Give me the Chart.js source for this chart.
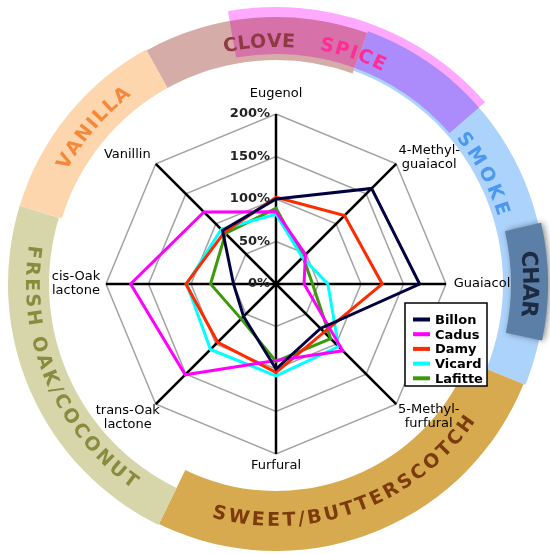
<!DOCTYPE html>
<html lang="en">
<head>
  <meta charset="UTF-8" />
  <title>Oak aroma compounds</title>
  <script src="https://cdn.jsdelivr.net/npm/chart.js"></script>
  <style>
    html, body { margin: 0; padding: 0; background: #fff; }
    #wrap { position: relative; width: 550px; height: 554px; }
  </style>
</head>
<body>
  <div id="wrap"><canvas id="radar"></canvas></div>

  <script>
    // compounds round the wheel, clockwise from the top
    const compounds = ['Eugenol', ['4-Methyl-', 'guaiacol'], 'Guaiacol', ['5-Methyl-', 'furfural'],
                       'Furfural', ['trans-Oak', 'lactone'], ['cis-Oak', 'lactone'], 'Vanillin'];

    // values in %
    const billon  = [100, 159, 169, 74, 100, 54, 50, 89];
    const cadus   = [85, 49, 33, 111, 90, 151, 171, 120];
    const damy    = [102, 114, 125, 80, 104, 97, 106, 86];
    const vicard  = [82, 44, 61, 104, 108, 109, 105, 91];
    const lafitte = [89, 45, 43, 91, 91, 58, 77, 84];

    const coopers = ['Billon', 'Cadus', 'Damy', 'Vicard', 'Lafitte'];
    const tickValues = [0, 50, 100, 150, 200];

    // aroma families on the outer ring
    const families = ['CLOVE', 'SPICE', 'SMOKE', 'CHAR', 'SWEET/BUTTERSCOTCH', 'FRESH OAK/COCONUT', 'VANILLA'];

    const colors = ['#000040', '#ff00ff', '#ff2a00', '#00ffff', '#3a9a0a'];
    const series = [billon, cadus, damy, vicard, lafitte];

    // ---- ring drawing helpers (angles in degrees, clockwise from top)
    const rad = d => (d - 90) * Math.PI / 180;

    function band(ctx, cx, cy, r0, r1, a0, a1, color) {
      ctx.beginPath();
      ctx.arc(cx, cy, r1, rad(a0), rad(a1));
      ctx.arc(cx, cy, r0, rad(a1), rad(a0), true);
      ctx.closePath();
      ctx.fillStyle = color;
      ctx.fill();
    }

    function arcText(ctx, cx, cy, text, mid, r, span, inward, font, color) {
      ctx.save();
      ctx.font = font;
      ctx.fillStyle = color;
      ctx.textAlign = 'center';
      ctx.textBaseline = 'middle';
      const chars = text.split('');
      const w = chars.map(c => ctx.measureText(c).width);
      const total = w.reduce((a, b) => a + b, 0);
      const len = span * Math.PI / 180 * r;
      const gap = (len - total) / (chars.length - 1);
      let s = 0;
      chars.forEach((c, i) => {
        const pos = s + w[i] / 2;
        s += w[i] + gap;
        const deg = inward ? mid + span / 2 - pos / r * 180 / Math.PI
                           : mid - span / 2 + pos / r * 180 / Math.PI;
        const t = deg * Math.PI / 180;
        ctx.save();
        ctx.translate(cx + r * Math.sin(t), cy - r * Math.cos(t));
        ctx.rotate(inward ? t + Math.PI : t);
        ctx.fillText(c, 0, 1);
        ctx.restore();
      });
      ctx.restore();
    }

    const ringPlugin = {
      id: 'ring',
      beforeDraw(chart) {
        const ctx = chart.ctx;
        const sc = chart.scales.r;
        const cx = sc.xCenter, cy = sc.yCenter;
        ctx.save();
        ctx.fillStyle = '#fff';
        ctx.fillRect(0, 0, chart.width, chart.height);

        band(ctx, cx, cy, 224, 267, -29, 20, '#d6aca9');   // clove
        band(ctx, cx, cy, 227, 269, 20, 112, '#acd3fb');   // smoke
        band(ctx, cx, cy, 207, 267, 112, 206, '#d7aa4f');  // sweet
        band(ctx, cx, cy, 227, 268, 206, 287, '#d6d6aa');  // fresh oak
        band(ctx, cx, cy, 224, 268, 287, 331, '#fdd6ae');  // vanilla

        ctx.globalCompositeOperation = 'multiply';
        band(ctx, cx, cy, 230, 277, -10, 49, '#ffa8ff');   // spice overlay
        ctx.globalCompositeOperation = 'source-over';

        ctx.save();
        ctx.shadowColor = 'rgba(0,0,0,0.45)';
        ctx.shadowBlur = 6;
        ctx.shadowOffsetX = 2;
        band(ctx, cx, cy, 235, 272, 77, 102, '#5b7fa7');   // char
        ctx.restore();

        const f = 'bold 19px "DejaVu Sans"';
        arcText(ctx, cx, cy, families[0], -4, 243, 17, false, f, '#8e3a42');
        arcText(ctx, cx, cy, families[1], 18.5, 244, 16, false, f, '#ff2d96');
        arcText(ctx, cx, cy, families[2], 62, 238, 22, false, f, '#4b98f0');
        arcText(ctx, cx, cy, families[3], 90, 254, 15, false, 'bold 22px "DejaVu Sans"', '#1c2a42');
        arcText(ctx, cx, cy, families[4], 160, 236, 71, true, f, '#7b3b0c');
        arcText(ctx, cx, cy, families[5], 247, 244, 64, true, f, '#8b8b40');
        arcText(ctx, cx, cy, families[6], 310.5, 244, 24, false, f, '#f5883a');
        ctx.restore();
      },
      afterDraw(chart) {
        const ctx = chart.ctx;
        const sc = chart.scales.r;
        ctx.save();

        // tick labels, left of the Eugenol axis
        ctx.font = 'bold 13px "DejaVu Sans"';
        ctx.fillStyle = '#222';
        ctx.textAlign = 'right';
        ctx.textBaseline = 'middle';
        tickValues.forEach(v => {
          const d = sc.getDistanceFromCenterForValue(v);
          ctx.fillText(v + '%', sc.xCenter - 6, sc.yCenter - d);
        });

        // compound names
        const offs = [[0, -20], [33, -6.5], [36, 0], [32.5, 12], [0, 12], [-28, 13], [-30, 0], [-28.5, -9]];
        ctx.font = '13px "DejaVu Sans"';
        ctx.fillStyle = '#000';
        ctx.textAlign = 'center';
        compounds.forEach((lab, i) => {
          const p = sc.getPointPositionForValue(i, 200);
          const lines = Array.isArray(lab) ? lab : [lab];
          const y0 = p.y + offs[i][1] - (lines.length - 1) * 7;
          lines.forEach((t, k) => ctx.fillText(t, p.x + offs[i][0], y0 + k * 14));
        });

        // legend box
        ctx.fillStyle = '#fff';
        ctx.fillRect(405, 303, 82, 83);
        ctx.strokeStyle = '#000';
        ctx.lineWidth = 1.5;
        ctx.strokeRect(405, 303, 82, 83);
        ctx.font = 'bold 13px "DejaVu Sans"';
        ctx.textAlign = 'left';
        chart.data.datasets.forEach((ds, i) => {
          const y = 319.5 + i * 14.7;
          ctx.fillStyle = ds.borderColor;
          ctx.fillRect(413, y - 2, 17, 4);
          ctx.fillStyle = '#000';
          ctx.fillText(ds.label, 435, y + 1);
        });
        ctx.restore();
      }
    };

    new Chart(document.getElementById('radar'), {
      type: 'radar',
      data: {
        labels: compounds,
        datasets: coopers.map((name, i) => ({
          label: name,
          data: series[i],
          borderColor: colors[i],
          backgroundColor: colors[i],
          borderWidth: 3,
          pointRadius: 0,
          fill: false,
          tension: 0
        }))
      },
      options: {
        responsive: true,
        maintainAspectRatio: false,
        animation: false,
        layout: { padding: { left: 106, right: 104, top: 114, bottom: 100 } },
        plugins: { legend: { display: false }, tooltip: { enabled: false } },
        scales: {
          r: {
            min: 0,
            max: 200,
            ticks: { display: false, stepSize: 50 },
            grid: { color: '#a3a3a3', lineWidth: 1.5 },
            angleLines: { color: '#000', lineWidth: 2.5 },
            pointLabels: { display: false }
          }
        }
      },
      plugins: [ringPlugin]
    });
  </script>
</body>
</html>
